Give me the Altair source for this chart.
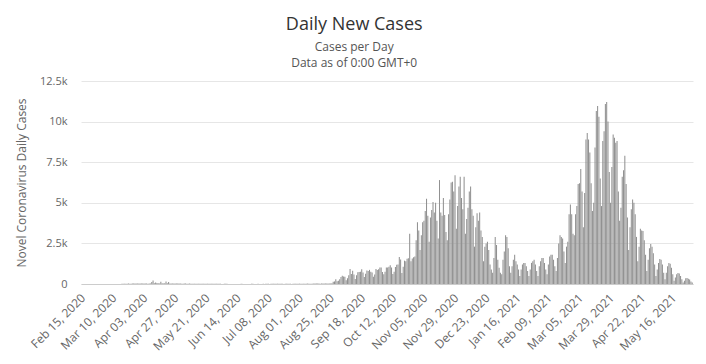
import altair as alt
import pandas as pd

feb_2020 = [0, 0, 0, 0, 0, 0, 0, 0, 0, 0, 0, 0, 0, 0, 0]
mar_2020 = [0, 0, 0, 2, 0, 2, 0, 2, 2, 3, 1, 3, 3, 2, 7, 7, 11, 11, 8, 12,
            18, 30, 20, 21, 25, 28, 30, 25, 28, 30, 32]
apr_2020 = [30, 28, 25, 30, 32, 11, 30, 35, 120, 210, 40, 100, 60, 40, 35, 140, 45, 30, 40, 160,
            40, 120, 35, 30, 28, 30, 25, 28, 30, 25]
may_2020 = [25, 22, 20, 24, 25, 21, 23, 25, 22, 21, 22, 20, 22, 20, 12, 20, 15, 18, 20, 18,
            18, 16, 17, 15, 14, 10, 12, 14, 12, 15, 13]
jun_2020 = [9, 6, 4, 14, 9, 12, 5, 7, 2, 6, 7, 4, 6, 4, 2, 6, 11, 6, 2, 4,
            3, 2, 5, 7, 8, 10, 7, 1, 5, 10]
jul_2020 = [5, 6, 6, 10, 6, 12, 10, 9, 4, 10, 18, 9, 20, 15, 18, 16, 16, 12, 18, 6,
            13, 10, 20, 8, 12, 5, 15, 16, 17, 20, 15]
aug_2020 = [20, 19, 10, 20, 12, 17, 25, 11, 9, 22, 20, 25, 28, 26, 24, 28, 18, 24, 30, 28,
            32, 30, 28, 35, 30, 40, 132, 159, 292, 163, 199]
sep_2020 = [292, 425, 510, 459, 445, 224, 351, 535, 916, 620, 809, 589, 309, 543, 725, 743, 747, 911, 706, 431,
            630, 827, 807, 870, 757, 713, 441, 590, 920, 865]
oct_2020 = [911, 1021, 1023, 736, 596, 750, 1015, 1010, 1069, 1155, 1012, 615, 747, 1041, 1183, 1201, 1663, 1510, 677, 1061,
            1436, 1400, 1549, 1582, 3100, 1400, 1564, 1650, 1700, 2700, 3800]
nov_2020 = [3300, 2100, 3000, 3800, 3900, 4500, 5250, 4200, 2600, 4100, 4550, 5050, 4400, 5000, 3900, 2800, 6400, 4400, 4200, 5300,
            4250, 3200, 2700, 4300, 5200, 6250, 6300, 5700, 6700, 3400]
dec_2020 = [4800, 6000, 6600, 5300, 4600, 6600, 3100, 4000, 4700, 5700, 6000, 4600, 4200, 2300, 3500, 4350, 3900, 4400, 3300, 2900,
            1400, 2300, 2500, 2600, 2100, 1200, 900, 700, 1600, 2900, 2400]
jan_2021 = [1500, 1000, 700, 600, 1500, 2000, 3000, 2900, 2200, 1100, 700, 1100, 1500, 1800, 1400, 1200, 900, 500, 900, 1200,
            1300, 1300, 1100, 800, 500, 900, 1300, 1400, 1500, 1200, 800]
feb_2021 = [500, 1100, 1400, 1600, 1600, 1300, 900, 600, 1200, 1700, 1800, 1800, 1500, 1100, 800, 1600, 2500, 3000, 2900, 2800,
            2000, 1300, 2300, 2600, 4300, 4900, 4300, 3100]
mar_2021 = [3000, 4300, 4800, 6150, 6200, 7080, 5700, 3500, 5600, 8900, 9300, 8900, 8100, 6200, 4500, 5000, 8400, 10650, 10960, 10300,
            6500, 4800, 8800, 9400, 11080, 11200, 10000, 6900, 5000, 7200, 9200]
apr_2021 = [9000, 8700, 8800, 5700, 3900, 4700, 6600, 7000, 7900, 6150, 4100, 2100, 3500, 4600, 5200, 5000, 4300, 2900, 1400, 2300,
            3400, 3300, 3260, 2700, 1800, 800, 1500, 2200, 2460, 2300]
may_2021 = [1900, 1200, 500, 900, 1300, 1540, 1500, 1200, 700, 300, 700, 1100, 1300, 1250, 1000, 600, 200, 400, 600, 680,
            650, 500, 300, 100, 200, 350, 370, 330, 280, 150, 90]

tick_labels = ["Feb 15, 2020", "Mar 10, 2020", "Apr 03, 2020", "Apr 27, 2020", "May 21, 2020",
               "Jun 14, 2020", "Jul 08, 2020", "Aug 01, 2020", "Aug 25, 2020", "Sep 18, 2020",
               "Oct 12, 2020", "Nov 05, 2020", "Nov 29, 2020", "Dec 23, 2020", "Jan 16, 2021",
               "Feb 09, 2021", "Mar 05, 2021", "Mar 29, 2021", "Apr 22, 2021", "May 16, 2021"]
y_ticks = [0, 2500, 5000, 7500, 10000, 12500]

cases = (feb_2020 + mar_2020 + apr_2020 + may_2020 + jun_2020 + jul_2020 + aug_2020 + sep_2020
         + oct_2020 + nov_2020 + dec_2020 + jan_2021 + feb_2021 + mar_2021 + apr_2021 + may_2021)
dates = pd.date_range("2020-02-15", periods=len(cases)).strftime("%b %d, %Y").tolist()
df = pd.DataFrame({"date": dates, "cases": cases})

FONT = "Open Sans"

chart = alt.Chart(df).mark_bar(color="#919191").encode(
    x=alt.X("date:O", sort=None,
            scale=alt.Scale(paddingInner=0.2, paddingOuter=0.2),
            axis=alt.Axis(values=tick_labels, labelAngle=-45, title=None, ticks=False,
                          domainColor="#cccccc", labelColor="#666666", labelFontSize=12,
                          labelFont=FONT, labelPadding=8, labelOffset=-2, labelOverlap=False,
                          grid=False)),
    y=alt.Y("cases:Q", scale=alt.Scale(domain=[0, 12500], nice=False),
            axis=alt.Axis(values=y_ticks, title="Novel Coronavirus Daily Cases",
                          labelExpr="datum.value == 0 ? '0' : (datum.value / 1000) + 'k'",
                          domain=False, ticks=False, gridColor="#e6e6e6",
                          labelColor="#666666", labelFontSize=11, labelFont=FONT, labelPadding=14,
                          titleColor="#666666", titleFontSize=12, titleFontWeight="normal",
                          titleFont=FONT, titlePadding=11)),
).properties(
    width=612, height=203,
    title=alt.TitleParams(text="Daily New Cases", subtitle=["Cases per Day", "Data as of 0:00 GMT+0"],
                          anchor="middle", frame="bounds", font=FONT, fontSize=18,
                          fontWeight="normal", color="#333333", subtitleFont=FONT,
                          subtitleFontSize=12, subtitleColor="#555555", subtitlePadding=8,
                          subtitleLineHeight=16, offset=6),
    autosize=alt.AutoSizeParams(type="none"),
    padding={"left": 73, "top": 73, "right": 5, "bottom": 72},
).configure_view(stroke=None)

chart.save("out.html", embed_options={"renderer": "svg", "actions": False})
